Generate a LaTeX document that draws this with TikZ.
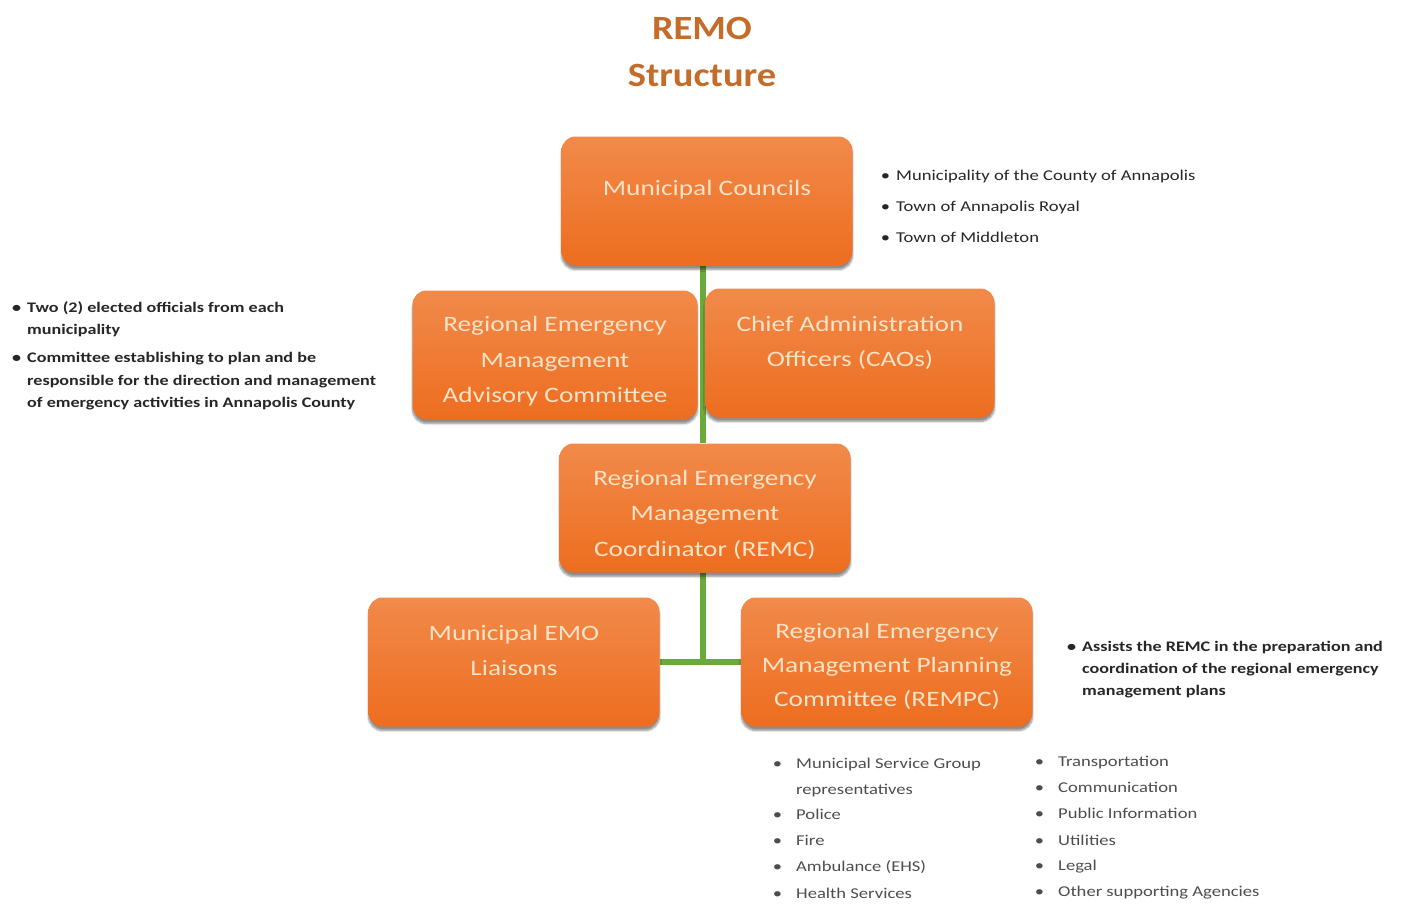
\documentclass[tikz,border=0pt]{standalone}
\usepackage{fontspec}
\setmainfont{Carlito}[FakeStretch=1.24]
\newfontfamily\titlefont{Carlito}[FakeStretch=1.13]
\usetikzlibrary{shadows.blur,backgrounds}
\definecolor{boxtop}{HTML}{F18A4A}
\definecolor{boxbot}{HTML}{ED6D1F}
\definecolor{boxtext}{HTML}{FCE3C8}
\definecolor{linkgreen}{HTML}{6AAA3A}
\definecolor{titleor}{HTML}{C46C2A}
\definecolor{notetext}{HTML}{262626}
\definecolor{listtext}{HTML}{4D4D4D}
\newcommand{\bul}[1][14pt]{\llap{\textbullet\hspace{#1}}}
\begin{document}
\begin{tikzpicture}[x=1pt,y=-1pt,
  orgbox/.style={rounded corners=14pt, top color=boxtop, bottom color=boxbot,
    text=boxtext, font=\fontsize{22}{35}\selectfont, align=center,
    minimum width=291pt, minimum height=129pt, inner sep=0pt,
    blur shadow={shadow xshift=0pt, shadow yshift=-4pt, shadow blur steps=6, shadow opacity=45}},
  link/.style={draw=linkgreen, line width=6pt},
  note/.style={anchor=base west, inner sep=0pt, text=notetext, font=\fontsize{15}{22}\selectfont},
  boldnote/.style={note, font=\fontsize{14.6}{22}\selectfont\bfseries},
  listitem/.style={anchor=base west, inner sep=0pt, text=listtext, font=\fontsize{15}{22}\selectfont}]
\useasboundingbox (0,0) rectangle (1401,903);

% title
\node[font=\titlefont\fontsize{34}{47}\selectfont\bfseries, text=titleor, align=center] (title) at (702,52) {REMO\\Structure};

% organisation boxes
\node[orgbox] (mc) at (707,201) {Municipal Councils\\[-9pt]};
\node[orgbox, minimum width=285pt] (remac) at (555,355) {Regional Emergency\\[0.5pt]Management\\[0.5pt]Advisory Committee\\[-44pt]};
\node[orgbox, minimum width=289pt] (cao) at (850,353) {Chief Administration\\Officers (CAOs)\\[-11pt]};
\node[orgbox] (remc) at (705,508) {Regional Emergency\\[0.5pt]Management\\[0.5pt]Coordinator (REMC)\\[-45pt]};
\node[orgbox] (emo) at (514,662) {Municipal EMO\\Liaisons\\[-12pt]};
\node[orgbox] (rempc) at (887,662) {Regional Emergency\\[-1pt]Management Planning\\[-1pt]Committee (REMPC)\\[-41pt]};

% green connectors
\coordinate (hub) at (703,662);
\begin{scope}[on background layer]
  \draw[link] (mc.south -| hub) -- (remc.north -| hub);
  \draw[link] (remc.south -| hub) -- (hub);
  \draw[link] (emo.east) -- (rempc.west);
\end{scope}

% council members
\node[note] (mc1) at (896,180) {\bul[6pt]Municipality of the County of Annapolis};
\node[note] (mc2) at (896,211) {\bul[6pt]Town of Annapolis Royal};
\node[note] (mc3) at (896,242) {\bul[6pt]Town of Middleton};

% advisory committee notes
\node[boldnote] (ac1) at (27,312) {\bul[6pt]Two (2) elected officials from each};
\node[boldnote] (ac1b) at (27,334) {municipality};
\node[boldnote] (ac2) at (27,362) {\bul[6pt]Committee establishing to plan and be};
\node[boldnote] (ac2b) at (27,385) {responsible for the direction and management};
\node[boldnote] (ac2c) at (27,407) {of emergency activities in Annapolis County};

% planning committee note
\node[boldnote] (pc1) at (1082,651) {\bul[6pt]Assists the REMC in the preparation and};
\node[boldnote] (pc1b) at (1082,673) {coordination of the regional emergency};
\node[boldnote] (pc1c) at (1082,695) {management plans};

% planning committee members
\node[listitem] (l1) at (796,768) {\bul Municipal Service Group};
\node[listitem] (l1b) at (796,794) {representatives};
\node[listitem] (l2) at (796,819) {\bul Police};
\node[listitem] (l3) at (796,845) {\bul Fire};
\node[listitem] (l4) at (796,871) {\bul Ambulance (EHS)};
\node[listitem] (l5) at (796,898) {\bul Health Services};
\node[listitem] (r1) at (1058,766) {\bul Transportation};
\node[listitem] (r2) at (1058,792) {\bul Communication};
\node[listitem] (r3) at (1058,818) {\bul Public Information};
\node[listitem] (r4) at (1058,845) {\bul Utilities};
\node[listitem] (r5) at (1058,870) {\bul Legal};
\node[listitem] (r6) at (1058,896) {\bul Other supporting Agencies};
\end{tikzpicture}
\end{document}
